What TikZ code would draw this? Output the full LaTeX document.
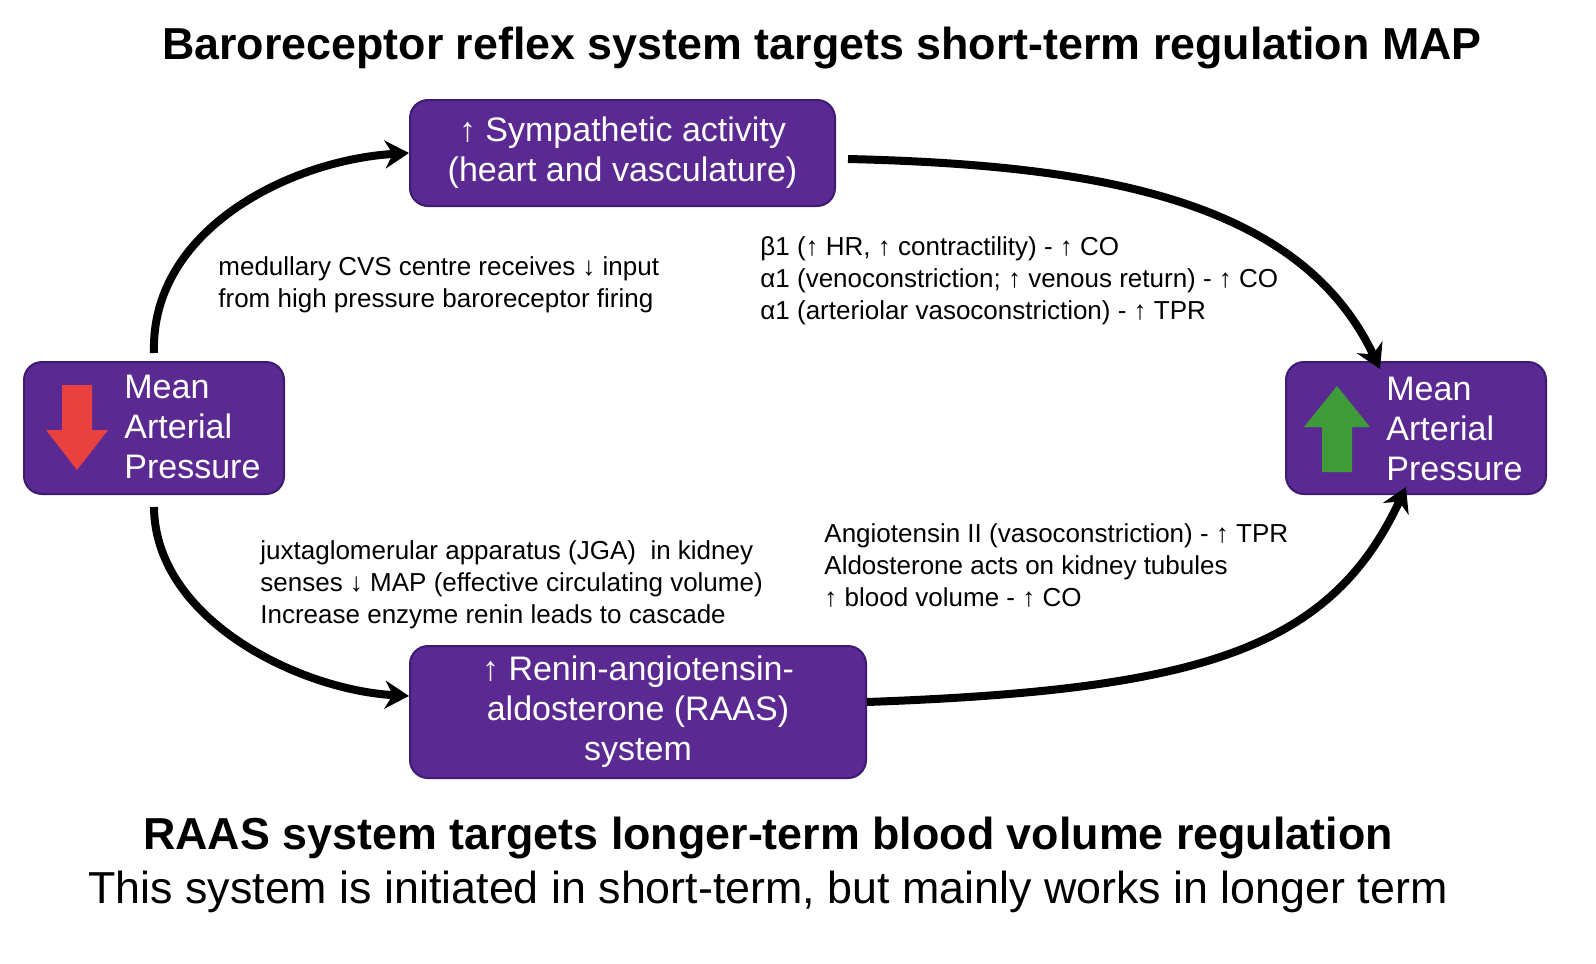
\documentclass[tikz,border=0pt]{standalone}
\usepackage{fontspec}
\setmainfont{Liberation Sans}
\usetikzlibrary{arrows.meta}
\definecolor{boxfill}{HTML}{5A2A92}
\definecolor{boxline}{HTML}{3E1A70}
\definecolor{redarr}{HTML}{E8413F}
\definecolor{greenarr}{HTML}{3F9B3A}
\begin{document}
\begin{tikzpicture}[x=0.5pt,y=-0.5pt,
  box/.style={draw=boxline,line width=1pt,fill=boxfill,rounded corners=9pt,text=white,font=\fontsize{17}{20}\selectfont,align=center,inner sep=0pt},
  ann/.style={anchor=north west,align=left,font=\fontsize{13}{16}\selectfont,inner sep=0pt},
  conn/.style={line width=4pt,-{Stealth[length=12pt,width=14pt]}}]
\useasboundingbox (0,0) rectangle (1596,964);
\node (title) at (822,48) {\fontsize{22.4}{24}\selectfont\bfseries Baroreceptor reflex system targets short-term regulation MAP};
\node[box,minimum width=212.5pt,minimum height=53pt] (symp) at (622.5,153) {↑ Sympathetic activity\\(heart and vasculature)};
\node[box,minimum width=130pt,minimum height=66pt] (lmap) at (154,428) {};
\node[box,minimum width=130pt,minimum height=66pt] (rmap) at (1416,428) {};
\node[box,minimum width=228pt,minimum height=66pt] (raas) at (638,712) {↑ Renin-angiotensin-\\aldosterone (RAAS)\\system};
\node[anchor=west,text=white,align=left,inner sep=0pt,font=\fontsize{17}{20}\selectfont] (lt) at (124,427) {Mean\\Arterial\\Pressure};
\node[anchor=west,text=white,align=left,inner sep=0pt,font=\fontsize{17}{20}\selectfont] (rt) at (1386,429) {Mean\\Arterial\\Pressure};
\fill[redarr] (62,385) -- (92,385) -- (92,430) -- (108,430) -- (77,470) -- (46,430) -- (62,430) -- cycle;
\fill[greenarr] (1322,472) -- (1352,472) -- (1352,427) -- (1370,427) -- (1337,386) -- (1304,427) -- (1322,427) -- cycle;
\node[ann] (a1) at (218,256) {medullary CVS centre receives ↓ input\\from high pressure baroreceptor firing};
\node[ann] (a2) at (760,236) {β1 (↑ HR, ↑ contractility) - ↑ CO\\α1 (venoconstriction; ↑ venous return) - ↑ CO\\α1 (arteriolar vasoconstriction) - ↑ TPR};
\node[ann] (a3) at (260,540) {juxtaglomerular apparatus (JGA)\ \ in kidney\\senses ↓ MAP (effective circulating volume)\\Increase enzyme renin leads to cascade};
\node[ann] (a4) at (824,523) {Angiotensin II (vasoconstriction) - ↑ TPR\\Aldosterone acts on kidney tubules\\↑ blood volume - ↑ CO};
\draw[conn] (lmap.north) ++(0,-8) .. controls (150,230) and (290,160) .. (symp.west);
\draw[conn] ([xshift=6pt,yshift=-3pt]symp.east) .. controls (1100,165) and (1300,200) .. ([xshift=-18pt,yshift=-4pt]rmap.north);
\draw[conn] ([yshift=-6pt]lmap.south) .. controls (155,620) and (300,690) .. ([yshift=8pt]raas.west);
\draw[conn] ([yshift=5pt]raas.east) .. controls (1200,690) and (1330,650) .. ([xshift=-5pt,yshift=4pt]rmap.south);
\node (b1) at (768,838) {\fontsize{22.4}{24}\selectfont\bfseries RAAS system targets longer-term blood volume regulation};
\node (b2) at (768,892) {\fontsize{22.4}{24}\selectfont This system is initiated in short-term, but mainly works in longer term};
\end{tikzpicture}
\end{document}
